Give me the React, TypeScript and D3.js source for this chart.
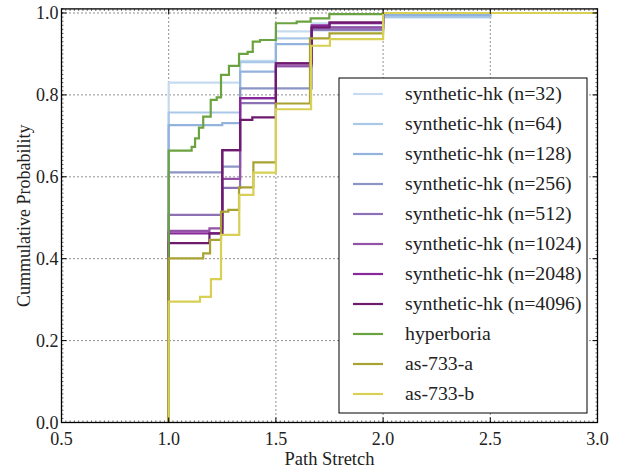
import * as d3 from "d3";
import React from "react";

// ECDF step points [path stretch, cumulative probability]
const seriesNames = [
  "synthetic-hk (n=32)",
  "synthetic-hk (n=64)",
  "synthetic-hk (n=128)",
  "synthetic-hk (n=256)",
  "synthetic-hk (n=512)",
  "synthetic-hk (n=1024)",
  "synthetic-hk (n=2048)",
  "synthetic-hk (n=4096)",
  "hyperboria",
  "as-733-a",
  "as-733-b",
];

const hk32 = [[1.0, 0.830], [1.333, 0.883], [1.5, 0.955], [1.667, 0.975], [2.0, 0.99], [2.5, 1.0]];
const hk64 = [[1.0, 0.757], [1.333, 0.880], [1.5, 0.938], [1.667, 0.965], [2.0, 0.99], [2.5, 1.0]];
const hk128 = [[1.0, 0.726], [1.25, 0.731], [1.333, 0.857], [1.5, 0.924], [1.667, 0.960], [1.75, 0.965], [2.0, 0.995], [2.5, 1.0]];
const hk256 = [[1.0, 0.611], [1.25, 0.625], [1.333, 0.816], [1.667, 0.958], [2.0, 1.0]];
const hk512 = [[1.0, 0.507], [1.25, 0.573], [1.333, 0.780], [1.5, 0.870], [1.667, 0.960], [2.0, 1.0]];
const hk1024 = [[1.0, 0.468], [1.19, 0.474], [1.25, 0.595], [1.333, 0.792], [1.5, 0.870], [1.667, 0.965], [2.0, 1.0]];
const hk2048 = [[1.0, 0.462], [1.25, 0.665], [1.333, 0.792], [1.5, 0.877], [1.667, 0.970], [1.75, 0.975], [2.0, 1.0]];
const hk4096 = [[1.0, 0.438], [1.19, 0.462], [1.25, 0.665], [1.333, 0.739], [1.39, 0.745], [1.5, 0.877], [1.667, 0.965], [1.75, 0.977], [2.0, 1.0]];
const hyperboria = [
  [1.0, 0.664], [1.107, 0.673], [1.123, 0.694], [1.141, 0.72], [1.161, 0.747], [1.196, 0.788],
  [1.224, 0.794], [1.244, 0.849], [1.281, 0.871], [1.328, 0.900], [1.368, 0.905], [1.392, 0.930],
  [1.426, 0.934], [1.5, 0.975], [1.597, 0.979], [1.662, 0.987], [1.749, 0.997], [2.0, 1.0],
];
const as733a = [[1.0, 0.401], [1.161, 0.413], [1.193, 0.446], [1.244, 0.515], [1.278, 0.519], [1.328, 0.574], [1.395, 0.635], [1.5, 0.779], [1.659, 0.938], [1.75, 0.950], [2.0, 1.0]];
const as733b = [[1.0, 0.295], [1.146, 0.307], [1.197, 0.350], [1.244, 0.458], [1.329, 0.556], [1.395, 0.610], [1.5, 0.765], [1.664, 0.920], [1.752, 0.936], [2.0, 1.0]];

const seriesData = [hk32, hk64, hk128, hk256, hk512, hk1024, hk2048, hk4096, hyperboria, as733a, as733b];

const xTicks = [0.5, 1.0, 1.5, 2.0, 2.5, 3.0];
const yTicks = [0.0, 0.2, 0.4, 0.6, 0.8, 1.0];

const colors = [
  "#c6dbef", "#aac9e8", "#93b3dc", "#8c96c6", "#8c71b5", "#9451a8",
  "#88289a", "#6e1b6e", "#6aa33f", "#a8a232", "#d8cf55",
];

const W = 622;
const H = 470;
const font = "Liberation Serif";

export default function App() {
  const x = d3.scaleLinear().domain([0.5, 3.0]).range([61.5, 597.5]);
  const y = d3.scaleLinear().domain([0, 1.01]).range([422.5, 8.9]);
  const [x0, x1] = x.range();
  const [yb, yt] = y.range();

  const line = d3.line<number[]>()
    .x(d => x(d[0]))
    .y(d => y(d[1]))
    .curve(d3.curveStepAfter);

  const pathFor = (pts: number[][]) => {
    const full = [[pts[0][0], 0], ...pts, [3.0, pts[pts.length - 1][1]]];
    return line(full) || "";
  };

  const xMinor = d3.range(0.5, 3.0001, 0.02);
  const yMinor = d3.range(0, 1.0101, 0.01);
  const gridX = xTicks.filter(t => t > 0.5 && t < 3.0);
  const gridY = yTicks.filter(t => t > 0);

  const legX = 339, legY = 78, legW = 248, legH = 335;

  return (
    <svg width={W} height={H} style={{ position: "absolute", left: 0, top: 0, background: "#fff" }}>
      <rect x={0} y={0} width={W} height={H} fill="#fff" />
      {/* grid */}
      {gridX.map(t => (
        <line key={"gx" + t} x1={x(t)} x2={x(t)} y1={yb} y2={yt} stroke="#222" strokeWidth={1} strokeDasharray="1,3" />
      ))}
      {gridY.map(t => (
        <line key={"gy" + t} x1={x0} x2={x1} y1={y(t)} y2={y(t)} stroke="#222" strokeWidth={1} strokeDasharray="1,3" />
      ))}
      {/* series */}
      {seriesData.map((pts, i) => (
        <path key={"s" + i} d={pathFor(pts)} fill="none" stroke={colors[i]} strokeWidth={2.2} />
      ))}
      {/* minor ticks */}
      {xMinor.map((t, i) => (
        <g key={"xm" + i}>
          <line x1={x(t)} x2={x(t)} y1={yb} y2={yb - 2} stroke="#000" strokeWidth={0.6} />
          <line x1={x(t)} x2={x(t)} y1={yt} y2={yt + 2} stroke="#000" strokeWidth={0.6} />
        </g>
      ))}
      {yMinor.map((t, i) => (
        <g key={"ym" + i}>
          <line x1={x0} x2={x0 + 2} y1={y(t)} y2={y(t)} stroke="#000" strokeWidth={0.6} />
          <line x1={x1} x2={x1 - 2} y1={y(t)} y2={y(t)} stroke="#000" strokeWidth={0.6} />
        </g>
      ))}
      {/* major ticks */}
      {xTicks.map(t => (
        <g key={"xt" + t}>
          <line x1={x(t)} x2={x(t)} y1={yb} y2={yb - 5} stroke="#000" strokeWidth={1} />
          <line x1={x(t)} x2={x(t)} y1={yt} y2={yt + 5} stroke="#000" strokeWidth={1} />
          <text x={x(t)} y={445} textAnchor="middle" fontSize={18} fill="#222" fontFamily={font}>{t.toFixed(1)}</text>
        </g>
      ))}
      {yTicks.map(t => (
        <g key={"yt" + t}>
          <line x1={x0} x2={x0 + 5} y1={y(t)} y2={y(t)} stroke="#000" strokeWidth={1} />
          <line x1={x1} x2={x1 - 5} y1={y(t)} y2={y(t)} stroke="#000" strokeWidth={1} />
          <text x={x0 - 3} y={y(t) + 6} textAnchor="end" fontSize={18} fill="#222" fontFamily={font}>{t.toFixed(1)}</text>
        </g>
      ))}
      {/* frame */}
      <rect x={x0} y={yt} width={x1 - x0} height={yb - yt} fill="none" stroke="#000" strokeWidth={1.3} />
      {/* axis labels */}
      <text x={(x0 + x1) / 2} y={465} textAnchor="middle" fontSize={18.5} fill="#222" fontFamily={font}>Path Stretch</text>
      <text transform={`translate(30,${(yb + yt) / 2}) rotate(-90)`} textAnchor="middle" fontSize={18} fill="#222" fontFamily={font}>Cummulative Probability</text>
      {/* legend */}
      <rect x={legX} y={legY} width={legW} height={legH} fill="#fff" stroke="#000" strokeWidth={1} />
      {seriesNames.map((name, i) => {
        const ry = legY + 16 + i * 30;
        return (
          <g key={"l" + i}>
            <line x1={legX + 14} x2={legX + 44} y1={ry} y2={ry} stroke={colors[i]} strokeWidth={2.2} />
            <text x={legX + 66} y={ry + 6} fontSize={19.8} fill="#222" fontFamily={font}>{name}</text>
          </g>
        );
      })}
    </svg>
  );
}
